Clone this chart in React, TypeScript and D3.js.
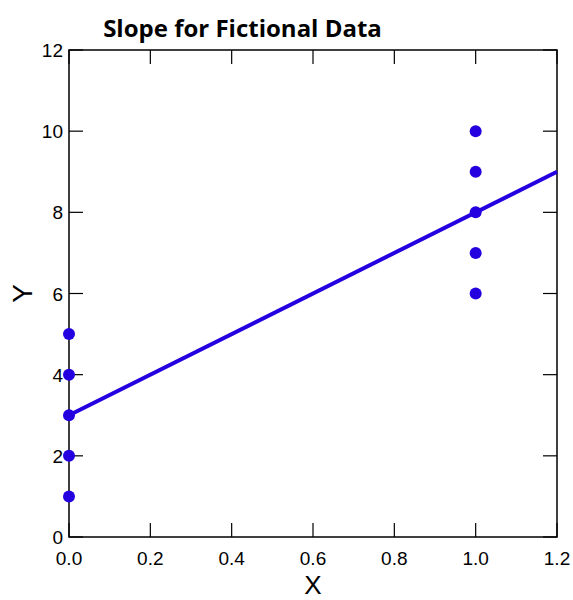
import React from "react";
import * as d3 from "d3";

const pointsX = [0, 0, 0, 0, 0, 1, 1, 1, 1, 1];
const pointsY = [1, 2, 3, 4, 5, 6, 7, 8, 9, 10];
const xTicks = [0, 0.2, 0.4, 0.6, 0.8, 1.0, 1.2];
const yTicks = [0, 2, 4, 6, 8, 10, 12];
const intercept = 3;
const slope = 5;
const title = "Slope for Fictional Data";

const COLOR = "#2400e0";

export default function App() {
  const W = 573, H = 600;
  const x = d3.scaleLinear().domain([0, 1.2]).range([69, 557]);
  const y = d3.scaleLinear().domain([0, 12]).range([537, 50]);
  const tick = 14;
  const line = d3.line<number>().x((d) => x(d)).y((d) => y(intercept + slope * d));
  const font = "'Liberation Sans', Arial, sans-serif";
  return (
    <svg width={W} height={H} style={{ position: "absolute", left: 0, top: 0 }}>
      <text x={242.5} y={36.5} textAnchor="middle" fontFamily="'Open Sans', sans-serif" fontWeight="bold" fontSize={24}>
        {title}
      </text>
      <rect x={x(0)} y={y(12)} width={x(1.2) - x(0)} height={y(0) - y(12)} fill="none" stroke="#000" strokeWidth={1.5} />
      {xTicks.map((t, i) => (
        <g key={"xt" + i}>
          <line x1={x(t)} x2={x(t)} y1={y(0)} y2={y(0) - tick} stroke="#000" strokeWidth={1.2} />
          <line x1={x(t)} x2={x(t)} y1={y(12)} y2={y(12) + tick} stroke="#000" strokeWidth={1.2} />
          <text x={x(t)} y={y(0) + 28} textAnchor="middle" fontFamily={font} fontSize={19}>
            {t.toFixed(1)}
          </text>
        </g>
      ))}
      {yTicks.map((t, i) => (
        <g key={"yt" + i}>
          <line x1={x(0)} x2={x(0) + tick} y1={y(t)} y2={y(t)} stroke="#000" strokeWidth={1.2} />
          <line x1={x(1.2)} x2={x(1.2) - tick} y1={y(t)} y2={y(t)} stroke="#000" strokeWidth={1.2} />
          <text x={x(0) - 6} y={y(t) + 7} textAnchor="end" fontFamily={font} fontSize={19}>
            {t}
          </text>
        </g>
      ))}
      <text x={x(0.6)} y={594} textAnchor="middle" fontFamily={font} fontSize={26}>X</text>
      <text transform={`translate(32, ${y(6)}) rotate(-90)`} textAnchor="middle" fontFamily={font} fontSize={28}>Y</text>
      <path d={line([0, 1.2]) || ""} fill="none" stroke={COLOR} strokeWidth={4} />
      {pointsX.map((px, i) => (
        <circle key={"p" + i} cx={x(px)} cy={y(pointsY[i])} r={6} fill={COLOR} />
      ))}
    </svg>
  );
}
